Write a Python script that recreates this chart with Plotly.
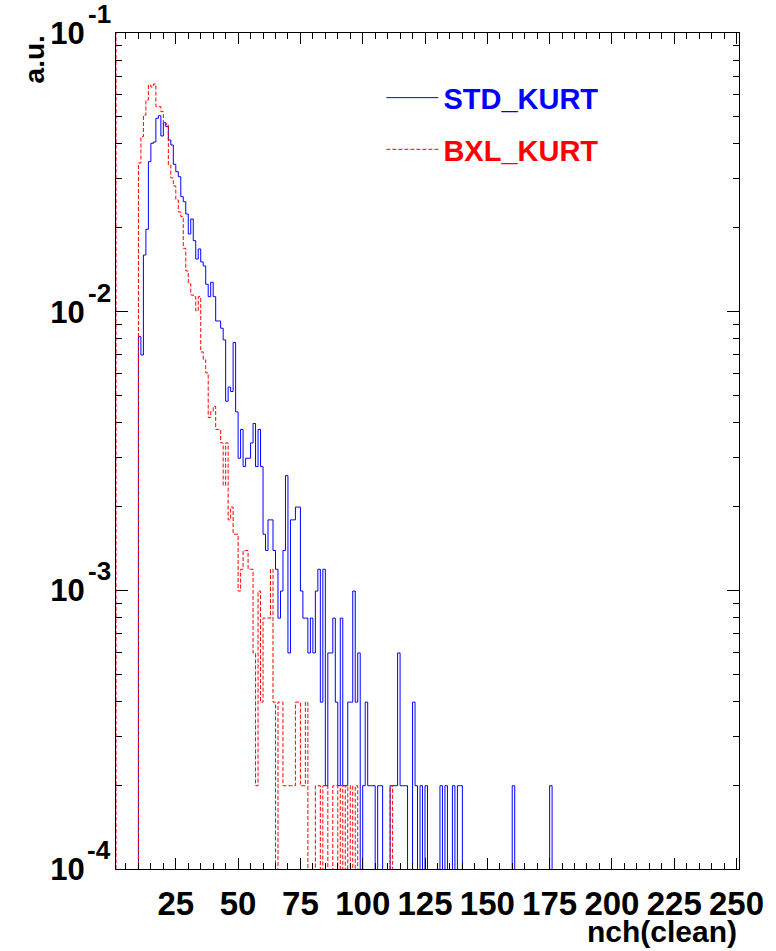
import plotly.graph_objects as go

# ---------------- data ----------------
# bins are 1 unit wide, low edges 10 ... 175
bin_low_edges = list(range(10, 176))

std_kurt = [
    0.00813, 0.00699, 0.01597, 0.01975, 0.03453, 0.04020, 0.04064, 0.04942, 0.05050, 0.04270,  # 10-19
    0.04766, 0.04619, 0.04132, 0.03964, 0.03380, 0.03179, 0.03050, 0.02586, 0.02481, 0.02241,  # 20-29
    0.01900, 0.02150, 0.01798, 0.01545, 0.01679, 0.01508, 0.01459, 0.01254, 0.01132, 0.01275,  # 30-39
    0.01132, 0.00926, 0.00926, 0.00872, 0.00792, 0.00477, 0.00536, 0.00517, 0.00775, 0.00437,  # 40-49
    0.00298, 0.00378, 0.00278, 0.00298, 0.00298, 0.00338, 0.00397, 0.00278, 0.00378, 0.00278,  # 50-59
    0.00159, 0.00139, 0.00179, 0.00179, 0.00139, 0.00119, 0.000795, 0.000994, 0.00139, 0.00258,  # 60-69
    0.000596, 0.00179, 0.00179, 0.00199, 0.00199, 0.000994, 0.000795, 0.000795, 0.000596, 0.000795,  # 70-79
    0.000596, 0.000994, 0.00119, 0.000397, 0.00119, 0.000199, 0.000596, 0.000596, 0.000795, 0.000397,  # 80-89
    0.000199, 0.000795, 0.000199, 0.000199, 0.000397, 0.000397, 0.000994, 0.000397, 0.000596, 0.0,  # 90-99
    0.000199, 0.000397, 0.000199, 0.000199, 0.000199, 0.0, 0.000199, 0.000199, 0.0, 0.0,  # 100-109
    0.0, 0.000199, 0.000199, 0.000199, 0.000596, 0.000199, 0.000199, 0.000199, 0.0, 0.0,  # 110-119
    0.000397, 0.000199, 0.0, 0.000199, 0.0, 0.000199, 0.0, 0.0, 0.0, 0.0,  # 120-129
    0.0, 0.000199, 0.0, 0.000199, 0.0, 0.0, 0.000199, 0.0, 0.000199, 0.000199,  # 130-139
    0.0, 0.0, 0.0, 0.0, 0.0, 0.0, 0.0, 0.0, 0.0, 0.0,  # 140-149
    0.0, 0.0, 0.0, 0.0, 0.0, 0.0, 0.0, 0.0, 0.0, 0.0,  # 150-159
    0.000199, 0.0, 0.0, 0.0, 0.0, 0.0, 0.0, 0.0, 0.0, 0.0,  # 160-169
    0.0, 0.0, 0.0, 0.0, 0.0, 0.000199,  # 170-175
]

bxl_kurt = [
    0.03416, 0.04246, 0.05078, 0.05748, 0.06507, 0.06400, 0.06561, 0.05438, 0.05438, 0.05221,  # 10-19
    0.04677, 0.04716, 0.03361, 0.03018, 0.02825, 0.02517, 0.02279, 0.02193, 0.01688, 0.01400,  # 20-29
    0.01258, 0.01148, 0.01132, 0.01006, 0.01132, 0.00717, 0.00671, 0.00603, 0.00417, 0.00437,  # 30-39
    0.00457, 0.00378, 0.00378, 0.00338, 0.00238, 0.00338, 0.00179, 0.00199, 0.00159, 0.00159,  # 40-49
    0.000994, 0.00119, 0.00139, 0.00139, 0.00119, 0.00119, 0.000596, 0.000199, 0.000994, 0.000397,  # 50-59
    0.000795, 0.000795, 0.000795, 0.00119, 0.000397, 0.0, 0.000397, 0.000397, 0.000199, 0.000199,  # 60-69
    0.000199, 0.000199, 0.000199, 0.000397, 0.000397, 0.000199, 0.000199, 0.000397, 0.0, 0.0,  # 70-79
    0.0, 0.000199, 0.000199, 0.0, 0.000199, 0.000199, 0.0, 0.0, 0.000199, 0.000199,  # 80-89
    0.0, 0.000199, 0.0, 0.000199, 0.0, 0.000199, 0.0, 0.000199, 0.0, 0.0,  # 90-99
    0.0, 0.0, 0.0, 0.0, 0.0, 0.0, 0.0, 0.0, 0.0, 0.0,  # 100-109
    0.0, 0.000199,  # 110-111
]

series_names = ["STD_KURT", "BXL_KURT"]
x_tick_values = [25, 50, 75, 100, 125, 150, 175, 200, 225, 250]
y_tick_values = [1e-4, 1e-3, 1e-2, 1e-1]
y_tick_exponents = [-4, -3, -2, -1]

# ---------------- drawing ----------------
FONT = "Liberation Sans, Arial, Helvetica, sans-serif"
FLOOR = 1e-7  # empty bins are drawn below the visible range (clipped)


def step_outline(values):
    xs = [bin_low_edges[0]]
    ys = [FLOOR]
    for edge, v in zip(bin_low_edges, values):
        xs.append(edge)
        ys.append(v if v > 0 else FLOOR)
    xs.append(bin_low_edges[len(values) - 1] + 1)
    ys.append(FLOOR)
    return xs, ys


fig = go.Figure()

xb, yb = step_outline(std_kurt)
fig.add_trace(go.Scatter(
    x=xb, y=yb, mode="lines", line_shape="hv",
    line=dict(color="#0000ff", width=1),
    name="<span style='color:#0000ff'>" + series_names[0] + "</span>",
    legendgroup="a",
))

xr, yr = step_outline(bxl_kurt)
fig.add_trace(go.Scatter(
    x=xr, y=yr, mode="lines", line_shape="hv",
    line=dict(color="#ff0000", width=1, dash="4px,2px"),
    name="<span style='color:#ff0000'>" + series_names[1] + "</span>",
    legendgroup="b",
))

minor_y = []
for dec in [1e-4, 1e-3, 1e-2]:
    for m in range(2, 10):
        minor_y.append(m * dec)

annotations = [
    dict(text="a.u.", textangle=-90, xref="paper", yref="paper",
         x=-0.131, y=1.0, xanchor="center", yanchor="top", showarrow=False,
         font=dict(family=FONT, size=28, color="black", weight="bold")),
    dict(text="nch(clean)", xref="paper", yref="paper",
         x=1.0, y=-0.075, xanchor="right", yanchor="middle", showarrow=False,
         font=dict(family=FONT, size=30, color="black", weight="bold")),
]
# exponents of the log-axis labels ("10" is the tick text, exponent raised beside it)
for e in y_tick_exponents:
    annotations.append(dict(
        text=str(e), xref="paper", yref="y", x=-0.005, y=e,
        xanchor="right", yanchor="middle", yshift=19, showarrow=False,
        font=dict(family=FONT, size=26, color="black", weight="bold"),
    ))

fig.update_layout(
    width=776, height=951,
    margin=dict(l=116, r=27, t=33, b=82),
    paper_bgcolor="white", plot_bgcolor="white",
    showlegend=True,
    legend=dict(
        x=0.426, y=0.953, xanchor="left", yanchor="top",
        bgcolor="rgba(0,0,0,0)", borderwidth=0,
        font=dict(family=FONT, size=29, color="#000000", weight="bold"),
        tracegroupgap=11, traceorder="grouped",
        itemwidth=52,
    ),
    xaxis=dict(
        range=[1, 251], showgrid=False, zeroline=False,
        showline=True, linecolor="black", linewidth=1, mirror="allticks",
        ticks="inside", ticklen=11, tickcolor="black", tickwidth=1,
        tickvals=x_tick_values, ticktext=[str(v) for v in x_tick_values],
        tickfont=dict(family=FONT, size=33, color="black", weight="bold"),
        ticklabelstandoff=5,
        minor=dict(ticks="inside", ticklen=6, dtick=5, tick0=0, tickcolor="black", showgrid=False),
    ),
    yaxis=dict(
        type="log", range=[-4, -1], showgrid=False, zeroline=False,
        showline=True, linecolor="black", linewidth=1, mirror="allticks",
        ticks="inside", ticklen=12, tickcolor="black", tickwidth=1,
        tickvals=y_tick_values, ticktext=["10"] * len(y_tick_values),
        tickfont=dict(family=FONT, size=31, color="black", weight="bold"),
        ticklabelstandoff=24, ticklabeloverflow="allow",
        minor=dict(ticks="inside", ticklen=6, tickvals=minor_y, tickcolor="black", showgrid=False),
    ),
    annotations=annotations,
    shapes=[
        dict(type="line", xref="x", yref="paper", x0=1, x1=1, y0=0, y1=1,
             line=dict(color="#ff0000", width=1, dash="4px,2px")),
    ],
)

fig.write_html("out.html")
